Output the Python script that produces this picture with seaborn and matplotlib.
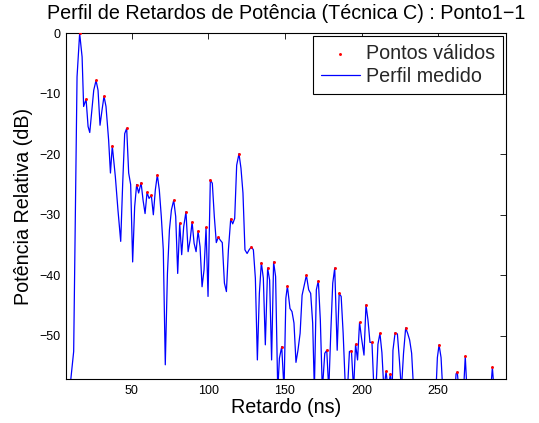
import numpy as np
import pandas as pd
import matplotlib
matplotlib.use("Agg")
import matplotlib.pyplot as plt
import seaborn as sns

# Measured profile (delay in ns, relative power in dB)
perfil_x = [9.5, 12.1, 14.3, 16.0, 17.6, 18.6, 20.2, 21.5, 22.6, 25.2, 26.7, 28.0, 29.3, 30.6,
            31.9, 33.2, 34.9, 36.1, 37.3, 39.3, 41.0, 42.8, 44.1, 45.4, 46.7, 48.0, 49.3, 50.6,
            51.9, 53.2, 54.5, 56.1, 57.4, 58.7, 60.0, 61.3, 62.8, 64.1, 65.4, 66.7, 68.0, 69.3,
            70.6, 71.9, 73.3, 74.6, 75.9, 77.4, 78.7, 80.0, 81.3, 82.6, 83.9, 85.4, 86.8, 88.1,
            89.4, 90.7, 92.0, 93.3, 94.6, 95.9, 97.2, 98.5, 99.8, 101.3, 102.6, 103.9, 105.2,
            106.5, 107.8, 109.1, 110.5, 111.8, 113.1, 114.6, 115.9, 117.2, 118.5, 120.0, 121.3,
            122.6, 123.9, 125.3, 126.6, 128.1, 129.4, 130.7, 132.0, 133.3, 134.6, 135.9, 137.2,
            138.7, 140.0, 141.3, 142.6, 143.9, 145.3, 146.4, 147.9, 149.4, 150.6, 151.6, 153.3,
            154.6, 155.9, 157.2, 158.5, 159.9, 161.2, 164.0, 165.5, 166.8, 168.1, 169.2, 170.5,
            171.8, 173.1, 174.4, 176.0, 177.3, 178.6, 179.9, 181.2, 182.5, 184.1, 185.4, 186.7,
            188.0, 189.5, 190.8, 192.1, 193.4, 194.8, 196.1, 197.4, 198.7, 200.0, 201.6, 202.9,
            204.2, 205.5, 206.8, 208.1, 209.4, 210.7, 212.0, 213.3, 214.6, 216.0, 217.4, 218.8,
            220.0, 220.5, 221.9, 223.4, 224.7, 226.0, 227.4, 228.8, 230.1, 231.4, 232.7, 234.0,
            248.6, 249.5, 250.6, 251.9, 253.0, 261.0, 261.7, 262.5, 263.5, 266.6, 267.7, 268.8,
            284.3, 285.4, 286.5]
perfil_db = [-59, -52.6, -7.2, 0.0, -3.9, -12.1, -10.9, -15.4, -16.4, -9.4, -7.8, -9.4, -15.2, -12.7,
             -10.4, -12.1, -17.6, -23.1, -18.6, -23.7, -29.2, -34.4, -24.8, -16.6, -15.7, -23.1, -25.0, -37.8,
             -28.7, -25.0, -26.4, -24.7, -27.6, -29.8, -26.3, -27.3, -26.8, -30.0, -25.9, -23.4, -25.9, -30.3,
             -35.8, -54.8, -39.7, -32.5, -29.2, -27.6, -30.3, -39.7, -31.4, -36.6, -32.0, -29.5, -36.1, -34.2,
             -31.2, -34.7, -36.1, -32.7, -35.3, -41.9, -39.1, -32.1, -43.5, -24.2, -24.8, -30.3, -34.6,
             -33.7, -34.2, -34.6, -41.3, -42.7, -35.8, -30.7, -31.5, -30.6, -21.8, -19.9, -22.3,
             -26.4, -35.8, -36.4, -35.8, -35.3, -35.8, -40.5, -54.0, -43.0, -37.9, -40.5, -51.5,
             -38.8, -40.8, -54.0, -37.8, -40.2, -59, -53.7, -51.8, -59, -43.8, -41.8, -45.5,
             -46.0, -47.9, -54.4, -52.4, -49.6, -43.3, -40.0, -42.4, -43.0, -47.9, -59, -42.4,
             -40.9, -47.4, -59, -52.9, -52.4, -59, -49.6, -41.3, -38.8, -52.4, -43.0, -43.5,
             -49.6, -59, -59, -52.6, -52.5, -59, -51.4, -54.0, -47.8, -50.4, -53.2, -44.9,
             -47.4, -51.1, -51.1, -59, -59, -51.4, -49.6, -52.8, -59, -55.9, -59, -56.3,
             -59, -52.4, -49.5, -49.7, -54.0, -59, -52.9, -48.7, -49.6, -50.7, -52.9, -59,
             -59, -53.6, -51.5, -53.6, -59, -59, -56.3, -56.0, -59, -59, -53.4, -59,
             -59, -55.2, -59]

# Valid points (peaks)
validos_x = [16.0, 20.2, 26.7, 31.9, 37.3, 46.7, 53.2, 56.1, 60.0, 62.8, 66.7, 77.4, 81.3, 85.4,
             89.4, 93.3, 98.5, 101.3, 106.5, 114.6, 120.0, 128.1, 134.6, 138.7, 142.6, 147.9,
             151.6, 164.0, 171.8, 177.3, 182.5, 185.4, 193.4, 196.1, 198.7, 202.9, 206.8, 212.0,
             216.0, 218.8, 221.9, 228.8, 250.6, 262.5, 267.7, 285.4]
validos_db = [0.0, -10.9, -7.8, -10.4, -18.6, -15.7, -25.0, -24.7, -26.3, -26.8, -23.4, -27.6, -31.4, -29.5,
              -31.2, -32.7, -32.1, -24.2, -33.7, -30.7, -19.9, -35.3, -37.9, -38.8, -37.8, -51.8,
              -41.8, -40.0, -40.9, -52.4, -38.8, -43.0, -52.5, -51.4, -47.8, -44.9, -51.1, -49.6,
              -55.9, -56.3, -49.5, -48.7, -51.5, -56.0, -53.4, -55.2]

sns.set_theme(style="white")
plt.rcParams['font.family'] = ['Liberation Sans', 'DejaVu Sans']

fig = plt.figure(figsize=(5.39, 4.23), dpi=100)
ax = fig.add_axes([0.1219, 0.1033, 0.8169, 0.8180])

df_line = pd.DataFrame({"x": perfil_x, "y": perfil_db})
df_pts = pd.DataFrame({"x": validos_x, "y": validos_db})

sns.scatterplot(data=df_pts, x="x", y="y", ax=ax, color="red", marker=".", s=18,
                linewidth=0, label="Pontos válidos", zorder=3)
sns.lineplot(data=df_line, x="x", y="y", ax=ax, color="blue", linewidth=0.9, sort=False,
             estimator=None, label="Perfil medido", zorder=2)

ax.set_xlim(6.9, 294.3)
ax.set_ylim(-57.2, 0)
ax.set_xticks([50, 100, 150, 200, 250])
ax.set_yticks([0, -10, -20, -30, -40, -50])
ax.set_yticklabels(["0", "\u221210", "\u221220", "\u221230", "\u221240", "\u221250"])
ax.tick_params(direction="in", top=True, right=True, length=4, width=0.6,
               labelsize=9, colors="black", pad=4)
for sp in ax.spines.values():
    sp.set_color("black")
    sp.set_linewidth(0.8)

FS = 14.2
ax.set_xlabel("Retardo (ns)", fontsize=FS, labelpad=1, color="black")
ax.set_ylabel("Potência Relativa (dB)", fontsize=FS, labelpad=4, color="black")
ax.set_title("Perfil de Retardos de Potência (Técnica C) : Ponto1\u22121", fontsize=FS,
             pad=10, color="black")

leg = ax.legend(loc="upper right", fontsize=FS, frameon=True, fancybox=False,
                borderaxespad=0.15, handlelength=2.0, handletextpad=0.3, borderpad=0.4,
                labelspacing=0.2)
leg.get_frame().set_edgecolor("black")
leg.get_frame().set_linewidth(0.8)
leg.get_frame().set_alpha(1)

fig.savefig("out.png", dpi=100)
